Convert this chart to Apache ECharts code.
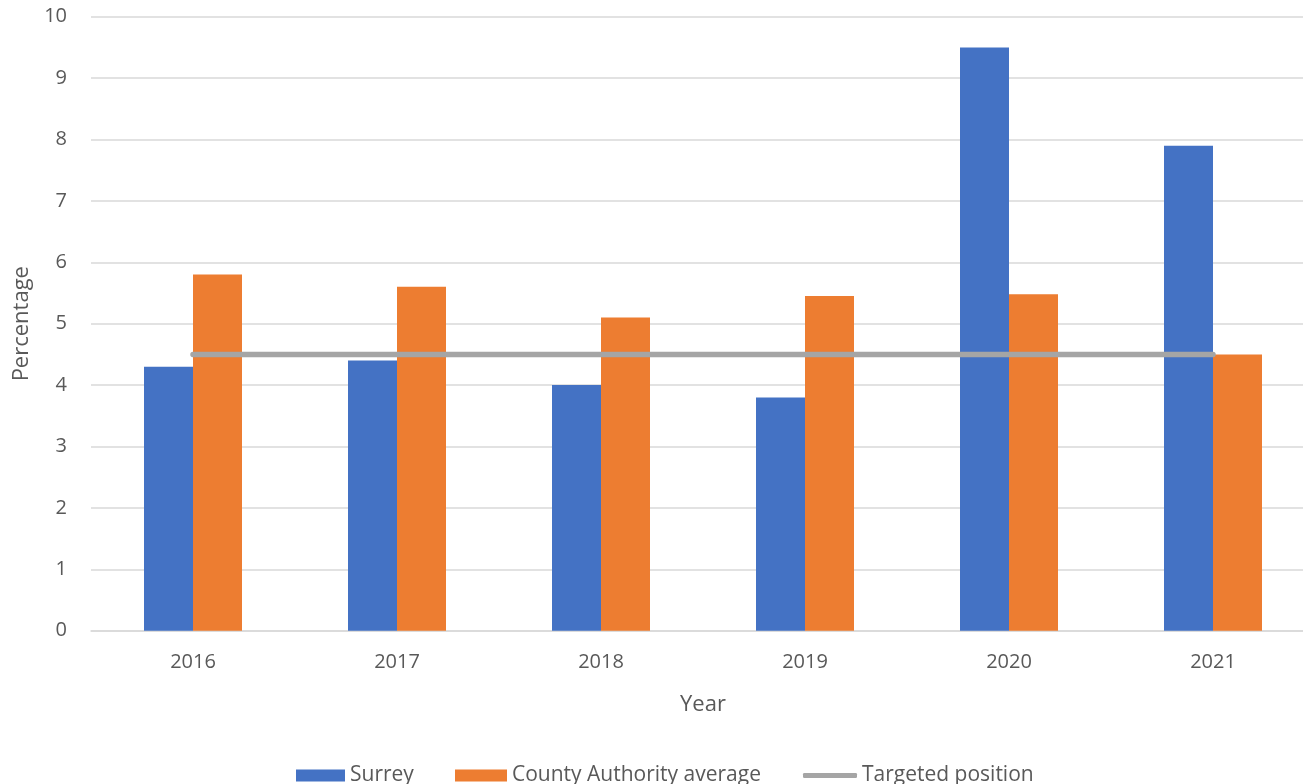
<!DOCTYPE html>
<html>
<head>
<meta charset="utf-8">
<script src="https://cdn.jsdelivr.net/npm/echarts@6/dist/echarts.min.js"></script>
<style>html,body{margin:0;padding:0;background:#fff;}#c{width:1303px;height:784px;}</style>
</head>
<body>
<div id="c"></div>
<script>
const years = ['2016','2017','2018','2019','2020','2021'];
const surrey = [4.3, 4.4, 4.0, 3.8, 9.5, 7.9];
const countyAvg = [5.8, 5.6, 5.1, 5.45, 5.48, 4.5];
const target = [4.5, 4.5, 4.5, 4.5, 4.5, 4.5];
const yTicks = [0,1,2,3,4,5,6,7,8,9,10];

const font = '"Open Sans", sans-serif';
const legendText = { fontFamily: font, fontSize: 21, color: '#595959' };
const chart = echarts.init(document.getElementById('c'));
chart.setOption({
  animation: false,
  backgroundColor: '#fff',
  grid: { left: 91, width: 1224, top: 16.7, height: 614, containLabel: false, outerBoundsMode: 'none' },
  legend: [
    { left: 296, top: 765, padding: 0, itemWidth: 49, itemHeight: 12, icon: 'rect',
      textStyle: legendText, data: ['Surrey'] },
    { left: 455, top: 765, padding: 0, itemWidth: 52, itemHeight: 12, icon: 'rect',
      textStyle: legendText, data: ['County Authority average'] },
    { left: 803, top: 765, padding: 0, itemWidth: 54, itemHeight: 5, icon: 'roundRect',
      textStyle: legendText, data: ['Targeted position'] }
  ],
  xAxis: {
    type: 'category', data: years,
    name: 'Year', nameLocation: 'middle', nameGap: 63,
    nameTextStyle: { fontFamily: font, fontSize: 22, color: '#595959' },
    axisLine: { lineStyle: { color: '#D9D9D9', width: 1.5 } },
    axisTick: { show: false },
    axisLabel: { fontFamily: font, fontSize: 20, color: '#595959', margin: 22 }
  },
  yAxis: {
    type: 'value', min: 0, max: 10, interval: 1,
    name: 'Percentage', nameLocation: 'middle', nameGap: 56, nameRotate: 90,
    nameTextStyle: { fontFamily: font, fontSize: 22, color: '#595959' },
    axisLine: { show: false }, axisTick: { show: false },
    splitLine: { lineStyle: { color: '#D9D9D9', width: 1.5 } },
    axisLabel: { fontFamily: font, fontSize: 20, color: '#595959', margin: 24,
      formatter: v => yTicks.includes(v) ? String(v) : '' }
  },
  series: [
    { name: 'Surrey', type: 'bar', data: surrey, barWidth: 49, barGap: '0%',
      itemStyle: { color: '#4472C4' } },
    { name: 'County Authority average', type: 'bar', data: countyAvg, barWidth: 49, barGap: '0%',
      itemStyle: { color: '#ED7D31' } },
    { name: 'Targeted position', type: 'line', data: target, symbol: 'none', z: 5,
      lineStyle: { color: '#A5A5A5', width: 5.5, cap: 'round' },
      itemStyle: { color: '#A5A5A5' } }
  ]
});
</script>
</body>
</html>
